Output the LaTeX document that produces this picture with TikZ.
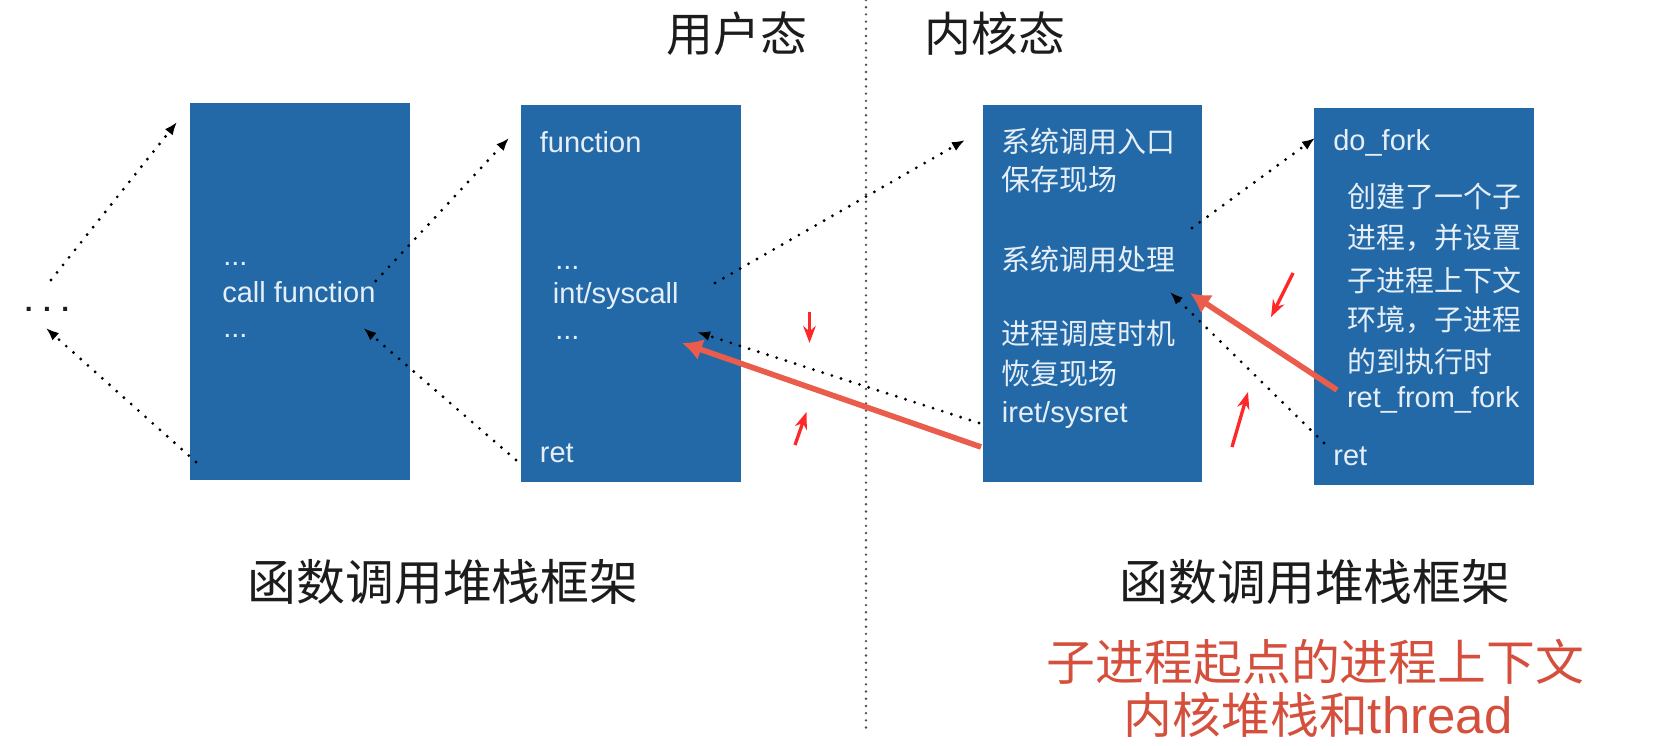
\documentclass[tikz,border=0pt]{standalone}
\usepackage{fontspec}
\setmainfont{Liberation Sans}
\newfontfamily\cjk{Noto Sans CJK SC}
\usetikzlibrary{arrows.meta}

\definecolor{stackblue}{RGB}{35,105,168}
\definecolor{stacktext}{RGB}{230,239,247}
\definecolor{switchred}{RGB}{234,92,76}
\definecolor{hintred}{RGB}{255,40,40}
\definecolor{notered}{RGB}{212,80,60}
\definecolor{labelgray}{RGB}{28,28,28}

\tikzset{
  frame/.style={fill=stackblue, inner sep=0pt, outer sep=0pt, minimum width=4.4cm, minimum height=7.54cm},
  line/.style={anchor=west, inner sep=0pt, text=stacktext, font=\fontsize{16.5}{20}\selectfont},
  cjkline/.style={line, font=\cjk\fontsize{16.5}{20}\selectfont},
  head/.style={inner sep=0pt, text=labelgray, font=\cjk\fontsize{26.7}{30}\selectfont},
  caption/.style={inner sep=0pt, text=labelgray, font=\cjk\fontsize{27.8}{32}\selectfont},
  note/.style={inner sep=0pt, text=notered, font=\cjk\fontsize{27.8}{32}\selectfont},
  link/.style={black, line width=1.8pt, line cap=round, dash pattern=on 0pt off 5.5pt,
    -{Latex[length=0.26cm,width=0.2cm]}},
  switch/.style={switchred, line width=3.2pt, -{Latex[length=0.4cm,width=0.44cm]}},
  hint/.style={hintred, line width=1.9pt, -{Stealth[length=0.34cm,width=0.25cm]}},
  divider/.style={black!70, line width=1.5pt, line cap=round, dash pattern=on 0pt off 4.1pt}
}

\begin{document}
\begin{tikzpicture}[x=0.02cm, y=-0.02cm]
  % --- canvas, same size as the reference ---
  \fill[white] (0,0) rectangle (1667,746);
  \useasboundingbox (0,0) rectangle (1667,746);

  % --- user / kernel divider ---
  \draw[divider] (866,0) -- (866,732);
  \node[head] (userlbl) at (737,34) {用户态};
  \node[head] (kernlbl) at (995,34) {内核态};

  % --- stack frames ---
  \node[frame] (callerbox) at (300,291.4) {};
  \node[frame] (funcbox)   at (631,293.4) {};
  \node[frame] (entrybox)  at (1092.5,293.4) {};
  \node[frame] (forkbox)   at (1424,296.2) {};

  % caller frame
  \node[inner sep=0pt, text=labelgray, font=\bfseries\fontsize{16}{20}\selectfont] (more) at (47,309) {. . .};
  \node[line] (dotsa)  at (223,264) {...};
  \node[line] (callfn) at (222,292) {call function};
  \node[line] (dotsb)  at (223,336) {...};

  % function frame
  \node[line] (func)    at (539.5,142) {function};
  \node[line] (dotsc)   at (555,268) {...};
  \node[line] (syscall) at (552.6,296) {int/syscall};
  \node[line] (dotsd)   at (555,338) {...};
  \node[line] (ret2)    at (539.5,453) {ret};

  % system call frame
  \node[cjkline] (entry)   at (1001.6,141.7) {系统调用入口};
  \node[cjkline] (save)    at (1001.6,180) {保存现场};
  \node[cjkline] (handle)  at (1001.6,260) {系统调用处理};
  \node[cjkline] (sched)   at (1001.6,333.3) {进程调度时机};
  \node[cjkline] (restore) at (1001.6,373.3) {恢复现场};
  \node[line]    (iret)    at (1001.6,415) {iret/sysret};

  % do_fork frame
  \node[line]    (dofork)  at (1333,143) {do\_fork};
  \node[cjkline] (forka)   at (1346.7,196.7) {创建了一个子};
  \node[cjkline] (forkb)   at (1346.7,238.3) {进程，并设置};
  \node[cjkline] (forkc)   at (1346.7,280) {子进程上下文};
  \node[cjkline] (forkd)   at (1346.7,320) {环境，子进程};
  \node[cjkline] (forke)   at (1346.7,361.7) {的到执行时};
  \node[line]    (retfork) at (1346.7,400) {ret\_from\_fork};
  \node[line]    (ret4)    at (1333,456.7) {ret};

  % --- captions below ---
  \node[caption] (userframes) at (443,582) {函数调用堆栈框架};
  \node[caption] (kernframes) at (1315,582) {函数调用堆栈框架};
  \node[note] (notea) at (1315.5,662) {子进程起点的进程上下文};
  \node[note] (noteb) at (1318,715) {内核堆栈和{\fontsize{29}{32}\selectfont\rmfamily thread}};

  % --- ends of the call / return links ---
  \coordinate (callerret)  at (196,462);
  \coordinate (morelow)    at (46,328);
  \coordinate (morehigh)   at (51,280);
  \coordinate (callertop)  at (177,122);
  \coordinate (functop)    at (509,138);
  \coordinate (ret2foot)   at (516,460);
  \coordinate (callback)   at (363.5,328);
  \coordinate (syscallend) at (715,283);
  \coordinate (entrytop)   at (965,140);
  \coordinate (iretfoot)   at (979,423);
  \coordinate (userback)   at (697,332);
  \coordinate (handleend)  at (1192,228);
  \coordinate (forktop)    at (1315,138);
  \coordinate (ret4foot)   at (1324,443);
  \coordinate (handleback) at (1170,292);

  % --- dotted call / return links ---
  \draw[link] (callerret) -- (morelow);
  \draw[link] (morehigh) -- (callertop);
  \draw[link] (callfn.north east) -- (functop);
  \draw[link] (ret2foot) -- (callback);
  \draw[link] (syscallend) -- (entrytop);
  \draw[link] (iretfoot) -- (userback);
  \draw[link] (handleend) -- (forktop);
  \draw[link] (ret4foot) -- (handleback);

  % --- red return path of the child ---
  \coordinate (iretred)   at (981,447);
  \coordinate (userred)   at (682,343);
  \coordinate (retforkred) at (1337,390);
  \coordinate (handlered) at (1190,293);
  \draw[switch] (iretred) -- (userred);
  \draw[switch] (retforkred) -- (handlered);

  % --- small red markers ---
  \coordinate (hintaa) at (809.5,312);  \coordinate (hintab) at (809.5,343);
  \coordinate (hintba) at (795,445);    \coordinate (hintbb) at (806.5,412);
  \coordinate (hintca) at (1293,273);   \coordinate (hintcb) at (1271,317);
  \coordinate (hintda) at (1232,447);   \coordinate (hintdb) at (1248,392);
  \draw[hint] (hintaa) -- (hintab);
  \draw[hint] (hintba) -- (hintbb);
  \draw[hint] (hintca) -- (hintcb);
  \draw[hint] (hintda) -- (hintdb);
\end{tikzpicture}
\end{document}
